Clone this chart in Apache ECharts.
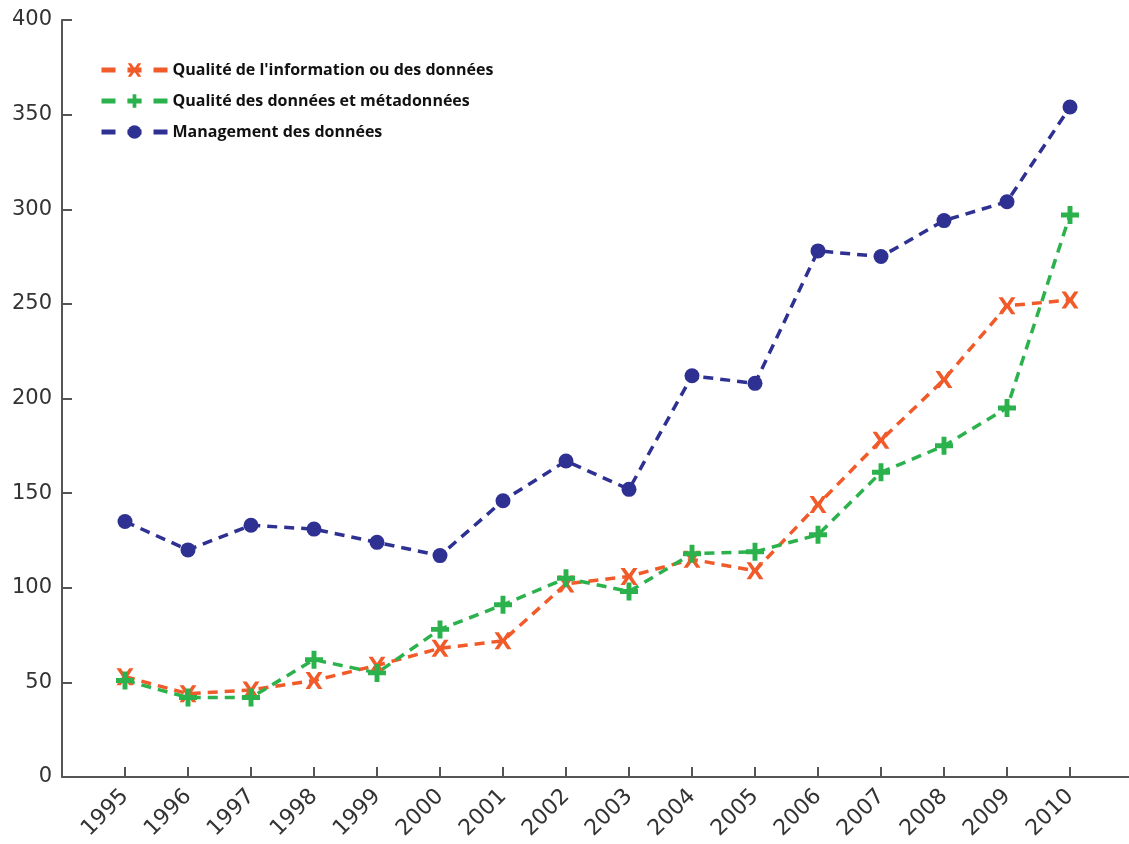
<!DOCTYPE html>
<html>
<head>
<meta charset="utf-8">
<script src="https://cdn.jsdelivr.net/npm/echarts@6/dist/echarts.min.js"></script>
<style>
  html, body { margin: 0; padding: 0; background: #fff; }
  #myChart { width: 1129px; height: 844px; }
</style>
</head>
<body>
<div id="myChart"></div>
<script>
// années
var years = [1995, 1996, 1997, 1998, 1999, 2000, 2001, 2002, 2003, 2004, 2005, 2006, 2007, 2008, 2009, 2010];
var qualiteInfo = [53, 44, 46, 51, 59, 68, 72, 102, 106, 115, 109, 144, 178, 210, 249, 252];
var qualiteMeta = [51, 42, 42, 62, 55, 78, 91, 105, 98, 118, 119, 128, 161, 175, 195, 297];
var management = [135, 120, 133, 131, 124, 117, 146, 167, 152, 212, 208, 278, 275, 294, 304, 354];
var seriesNames = ["Qualité de l'information ou des données", 'Qualité des données et métadonnées', 'Management des données'];

var symX = 'path://M2,0 L5,0 L8,4 L11,0 L14,0 L10,5.5 L14,11 L11,11 L8,7 L5,11 L2,11 L6,5.5 Z';
var symPlus = 'path://M4,0 L7,0 L7,4 L11,4 L11,7 L7,7 L7,11 L4,11 L4,7 L0,7 L0,4 L4,4 Z';

function pairs(vals) {
  return years.map(function (y, i) { return [y, vals[i]]; });
}

function mkSeries(name, vals, color, symbol, size) {
  return {
    name: name,
    type: 'line',
    data: pairs(vals),
    symbol: symbol,
    symbolSize: size,
    showSymbol: true,
    itemStyle: { color: color },
    lineStyle: { color: color, width: 3.5, type: [10, 7] },
    animation: false
  };
}

var chart = echarts.init(document.getElementById('myChart'));
chart.setOption({
  backgroundColor: '#fff',
  grid: { left: 62, top: 20, width: 1071, height: 757, outerBoundsMode: 'none', containLabel: false },
  legend: {
    left: 94,
    top: 57,
    orient: 'vertical',
    itemWidth: 66,
    itemHeight: 17,
    itemGap: 15,
    lineStyle: { width: 5, type: [14, 12] },
    textStyle: { fontFamily: 'Open Sans', fontWeight: 'bold', fontSize: 16, color: '#111' },
    data: seriesNames
  },
  xAxis: {
    type: 'value',
    min: 1994,
    max: 2011,
    interval: 1,
    splitLine: { show: false },
    axisLine: { lineStyle: { color: '#555', width: 2 } },
    axisTick: { inside: true, length: 10, lineStyle: { color: '#555', width: 2 } },
    axisLabel: {
      rotate: 45,
      fontFamily: 'DejaVu Sans',
      fontSize: 22,
      color: '#333',
      margin: 16,
      formatter: function (v) { return (v >= 1995 && v <= 2010) ? String(v) : ''; }
    }
  },
  yAxis: {
    type: 'value',
    min: 0,
    max: 400,
    interval: 50,
    splitLine: { show: false },
    axisLine: { show: true, lineStyle: { color: '#555', width: 2 } },
    axisTick: { show: true, inside: true, length: 10, lineStyle: { color: '#555', width: 2 } },
    axisLabel: { fontFamily: 'DejaVu Sans', fontSize: 21, color: '#333', margin: 10 }
  },
  series: [
    mkSeries(seriesNames[0], qualiteInfo, '#F15A29', symX, 17),
    mkSeries(seriesNames[1], qualiteMeta, '#2BB24C', symPlus, 18),
    mkSeries(seriesNames[2], management, '#2E3192', 'circle', 15)
  ]
});
</script>
</body>
</html>
